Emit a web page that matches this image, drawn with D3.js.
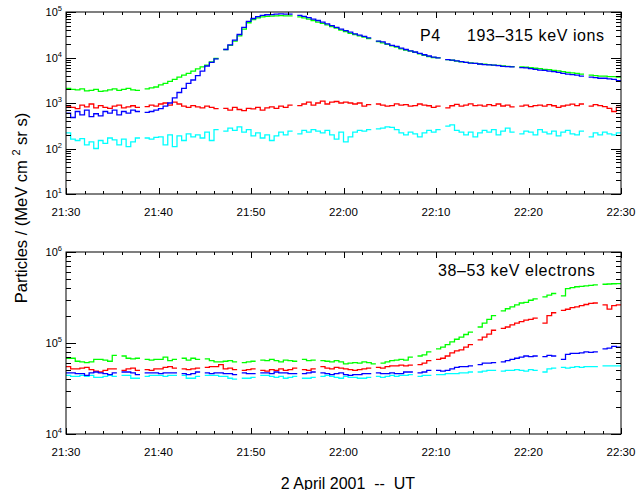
<!DOCTYPE html>
<html>
<head>
<meta charset="utf-8">
<script src="https://cdn.jsdelivr.net/npm/d3@7"></script>
<style>
  body { margin: 0; background: #fff; }
  svg { display: block; font-family: "Liberation Sans", Arial, Helvetica, sans-serif; }
  .frame { fill: none; stroke: #000; stroke-width: 1; }
  .tick { stroke: #000; stroke-width: 1; }
</style>
</head>
<body>
<svg id="chart" width="636" height="490"></svg>
<script>
// minutes after 21:30 UT, 2 April 2001
let timeTicks = [0, 10, 20, 30, 40, 50, 60];
let timeLabels = ["21:30", "21:40", "21:50", "22:00", "22:10", "22:20", "22:30"];

// ---- P4 193-315 keV ions, 30 s bins ----
let ionGreen = [
    2100,2000,1950,2050,1850,1900,2000,1800,1850,1950, 2050,1900,2000,2100,1950,1900,null,2050,2150,2250,
    2500,2700,3000,3300,3700,4100,4500,5000,5600,6200, 6800,8000,9500,null,15000,18500,23000,30000,42000,58000,
    68000,74000,78000,80000,81000,82000,83000,82000,82000,null, 78000,74000,70000,65000,60000,56000,52000,48000,44000,40000,
    37000,34000,32000,30000,28000,26000,null,22500,21000,19500, 18000,17000,15500,14500,13800,13000,12000,11200,10500,10000,
    9800,null,9000,8700,8300,8000,7800,7600,7400,7200, 7100,7000,6800,6700,6500,6400,6300,null,6200,6100,
    6000,5800,5700,5500,5400,5200,5100,4900,4700,4600, 4500,4300,null,4100,4000,3900,3900,3800,3800,3700
];
let ionBlue = [
    600,480,650,550,700,500,580,520,650,600, 700,550,650,600,700,650,null,620,650,700,
    750,850,1000,1300,1700,2100,2700,3200,4000,5000, 6500,7800,9300,null,15000,19000,24000,32000,46000,62000,
    72000,79000,84000,87000,88000,90000,91000,90000,90000,null, 84000,80000,75000,70000,65000,60000,55000,50000,46000,42000,
    39000,36000,33000,31000,29000,27000,null,23000,22000,20000, 18500,17500,16000,15000,14000,13200,12300,11500,10800,10200,
    9800,null,9000,8800,8400,8100,7800,7500,7400,7200, 7000,6900,6800,6600,6400,6300,6200,null,6000,5900,
    5700,5500,5300,5200,5000,4900,4700,4500,4300,4200, 4100,3900,null,3700,3600,3500,3500,3400,3300,3100
];
let ionRed = [
    850,800,750,900,820,950,780,880,800,760, 850,900,780,820,870,800,null,830,900,850,
    950,1000,900,1050,950,850,800,880,820,780, 850,800,750,null,760,700,800,720,680,760,
    740,800,700,780,820,760,850,800,900,null, 880,950,1050,900,1000,1100,950,1050,1080,1000,
    1050,1000,950,1000,850,920,null,950,900,850, 880,960,900,920,850,880,950,900,870,800,
    850,null,780,870,930,850,900,960,880,900, 850,920,880,950,860,900,820,null,850,900,
    830,880,900,850,920,870,800,860,900,940, 880,950,null,850,920,880,830,760,650,800
];
let ionCyan = [
    220,160,150,165,120,140,100,150,130,170, 155,120,160,110,140,170,null,170,160,175,
    180,120,200,110,190,150,210,180,200,170, 230,150,260,null,240,280,250,300,230,260,
    190,220,170,200,150,190,230,200,240,null, 210,250,230,260,240,220,250,200,160,230,
    140,180,230,250,240,260,null,270,280,300, 290,260,220,200,230,210,180,220,250,230,
    260,null,310,330,250,230,200,230,180,220, 250,230,260,200,240,280,230,null,210,240,
    230,200,260,230,210,240,190,230,250,210, 200,240,null,180,220,200,230,210,200,220
];

// ---- 38-53 keV electrons, 30 s bins ----
let eGreen = [
    68000,68000,63000,62000,61000,62000,66000,66000,65000,63000, 73000,null,72000,68000,67000,68000,null,66000,65000,66000,
    66000,70000,64000,66000,null,68000,65000,68000,66000,null, 67000,64000,62000,62000,63000,64000,62000,null,61000,62000,
    63000,null,65000,64000,66000,64000,62000,65000,64000,63000, null,66000,64000,65000,null,64000,63000,62000,64000,62000,
    59000,60000,61000,60000,62000,61000,59000,null,60000,62000, 64000,65000,66000,65000,70000,null,72000,74000,80000,null,
    86000,90000,96000,103000,110000,116000,124000,132000,null,150000, 165000,182000,200000,null,225000,238000,250000,262000,275000,280000,
    295000,305000,null,322000,335000,350000,null,330000,395000,405000, 415000,420000,425000,430000,435000,null,442000,445000,448000,450000
];
let eRed = [
    55000,52000,52000,53000,54000,51000,49000,48000,50000,52000, 52000,null,50000,52000,53000,50000,null,51000,50000,52000,
    52000,54000,55000,53000,null,52000,51000,52000,53000,null, 54000,55000,55000,58000,52000,53000,51000,null,50000,51000,
    52000,null,50000,49000,51000,50000,52000,50000,51000,53000, null,51000,50000,52000,null,55000,53000,52000,54000,53000,
    52000,51000,50000,51000,52000,53000,null,54000,53000,55000, 56000,56000,57000,56000,57000,null,58000,60000,64000,null,
    66000,68000,72000,78000,82000,84000,90000,96000,null,108000, 116000,125000,138000,null,145000,150000,158000,165000,172000,178000,
    182000,188000,null,165000,200000,215000,null,228000,235000,245000, 250000,258000,265000,272000,275000,null,262000,236000,258000,262000
];
let eBlue = [
    47000,47000,46000,46000,44000,47000,48000,47000,46000,45000, 47000,null,48000,48000,47000,45000,null,47000,47000,47000,
    46000,47000,47000,47000,null,46000,45000,46000,48000,null, 47000,46000,47000,47000,46000,46000,45000,null,47000,46000,
    46000,null,47000,47000,46000,48000,47000,47000,46000,46000, null,46000,47000,48000,null,47000,46000,45000,46000,47000,
    45000,44000,45000,45000,46000,46000,null,47000,46000,46000, 47000,46000,46000,48000,48000,null,47000,48000,50000,null,
    50000,49000,50000,52000,54000,55000,55000,56000,null,58000, 60000,60000,61000,null,62000,64000,66000,68000,70000,72000,
    71000,72000,null,71000,73000,72000,null,66000,75000,77000, 77000,78000,80000,79000,80000,null,86000,88000,92000,90000
];
let eCyan = [
    44000,43000,43000,44000,43000,44000,42000,42000,43000,44000, 43000,null,44000,44000,41000,41000,null,43000,44000,44000,
    44000,43000,44000,44000,null,44000,41000,41000,43000,null, 44000,44000,44000,43000,43000,41000,40000,null,41000,41000,
    42000,null,44000,44000,43000,42000,43000,41000,42000,43000, null,41000,41000,42000,null,43000,44000,43000,42000,41000,
    43000,42000,42000,41000,41000,42000,null,43000,42000,43000, 44000,43000,44000,44000,45000,null,43000,44000,44000,null,
    45000,45000,46000,46000,46000,47000,47000,48000,null,48000, 49000,50000,50000,null,49000,50000,50000,51000,50000,49000,
    51000,50000,null,48000,52000,53000,null,54000,53000,54000, 55000,54000,55000,55000,55000,null,56000,56000,56000,56000
];

let binMinutes = 0.5;

let svg = d3.select("#chart");
let left = 66, right = 621;

let x = d3.scaleLinear().domain([0, 60]).range([left, right]);

// step histogram points, nulls break the line
function stepPoints(vals){
    let pts = [];
    vals.forEach(function(v, i){
        if(v == null){ pts.push(null); return; }
        pts.push([i * binMinutes, v]);
        pts.push([(i + 1) * binMinutes, v]);
    });
    return pts;
}

function drawPanel(p){
    let y = d3.scaleLog().domain(p.domain).range([p.bottom, p.top]);
    let g = svg.append("g");

    let clipId = "clip" + p.name;
    svg.append("clipPath").attr("id", clipId)
        .append("rect")
        .attr("x", left).attr("y", p.top)
        .attr("width", right - left).attr("height", p.bottom - p.top);

    let line = d3.line()
        .defined(function(d){ return d != null; })
        .x(function(d){ return x(d[0]); })
        .y(function(d){ return y(d[1]); });

    let lines = g.append("g").attr("clip-path", "url(#" + clipId + ")");
    p.series.forEach(function(s){
        lines.append("path")
            .attr("d", line(stepPoints(s.values)))
            .attr("fill", "none")
            .attr("stroke", s.color)
            .attr("stroke-width", 1.3);
    });

    g.append("rect").attr("class", "frame")
        .attr("x", left).attr("y", p.top)
        .attr("width", right - left).attr("height", p.bottom - p.top);

    // time ticks, bottom and top, inward
    let minor = d3.range(0, 61, 2);
    minor.forEach(function(m){
        let len = (m % 10 === 0) ? 6 : 3;
        let xx = Math.round(x(m)) + 0.5;
        g.append("line").attr("class", "tick")
            .attr("x1", xx).attr("x2", xx)
            .attr("y1", p.bottom).attr("y2", p.bottom - len);
        g.append("line").attr("class", "tick")
            .attr("x1", xx).attr("x2", xx)
            .attr("y1", p.top).attr("y2", p.top + len);
    });
    timeTicks.forEach(function(m, i){
        g.append("text")
            .attr("x", x(m)).attr("y", p.bottom + 22)
            .attr("text-anchor", "middle")
            .attr("font-size", 11.5)
            .text(timeLabels[i]);
    });

    // log ticks, left and right
    let lo = Math.log10(p.domain[0]), hi = Math.log10(p.domain[1]);
    for(let e = lo; e <= hi; e++){
        for(let k = 1; k <= 9; k++){
            let v = k * Math.pow(10, e);
            if(v > p.domain[1]) break;
            let len = (k === 1) ? 10 : 5;
            let yy = Math.round(y(v)) + 0.5;
            g.append("line").attr("class", "tick")
                .attr("x1", left).attr("x2", left + len)
                .attr("y1", yy).attr("y2", yy);
            g.append("line").attr("class", "tick")
                .attr("x1", right).attr("x2", right - len)
                .attr("y1", yy).attr("y2", yy);
        }
        let lab = g.append("text")
            .attr("x", left - 4).attr("y", y(Math.pow(10, e)) + 4)
            .attr("text-anchor", "end")
            .attr("font-size", 11);
        lab.append("tspan").text("10");
        lab.append("tspan").attr("font-size", 7.5).attr("dy", -5).text(e);
    }

    p.labels.forEach(function(l){
        g.append("text")
            .attr("x", l.x).attr("y", l.y)
            .attr("font-size", 16)
            .attr("letter-spacing", 0.6)
            .text(l.text);
    });
}

drawPanel({
    name: "ions",
    domain: [10, 1e5],
    top: 12, bottom: 194,
    series: [
        {values: ionGreen, color: "#00ff00"},
        {values: ionRed, color: "#ff0000"},
        {values: ionCyan, color: "#00ffff"},
        {values: ionBlue, color: "#0000ff"}
    ],
    labels: [
        {x: 420, y: 41, text: "P4"},
        {x: 467, y: 41, text: "193\u2013315 keV ions"}
    ]
});

drawPanel({
    name: "electrons",
    domain: [1e4, 1e6],
    top: 252, bottom: 434,
    series: [
        {values: eGreen, color: "#00ff00"},
        {values: eRed, color: "#ff0000"},
        {values: eCyan, color: "#00ffff"},
        {values: eBlue, color: "#0000ff"}
    ],
    labels: [
        {x: 438, y: 276, text: "38\u201353 keV electrons"}
    ]
});

// axis titles
let yt = svg.append("text")
    .attr("transform", "translate(27,208) rotate(-90)")
    .attr("text-anchor", "middle")
    .attr("font-size", 16.5);
yt.append("tspan").text("Particles / (MeV cm ");
yt.append("tspan").attr("font-size", 11).attr("dy", -7).text("2");
yt.append("tspan").attr("dy", 7).text(" sr s)");

svg.append("text")
    .attr("x", 348).attr("y", 489)
    .attr("text-anchor", "middle")
    .attr("font-size", 16)
    .attr("xml:space", "preserve")
    .style("white-space", "pre")
    .text("2 April 2001  --  UT");
</script>
</body>
</html>
